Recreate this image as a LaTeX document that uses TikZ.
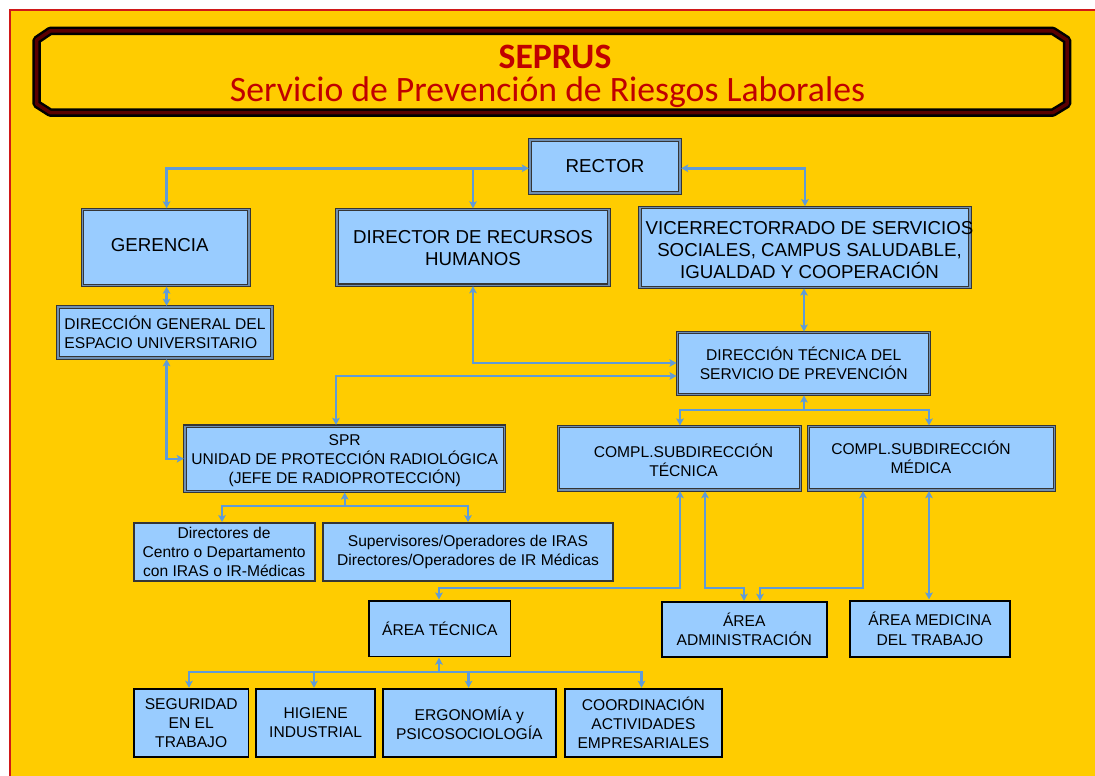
\documentclass[tikz,border=0pt]{standalone}
\usepackage{fontspec}
\setmainfont{Liberation Sans}
\newfontfamily\titlefont{Carlito}
\usetikzlibrary{arrows.meta,calc}
\definecolor{bgyellow}{HTML}{FFCC00}
\definecolor{borderred}{HTML}{D01818}
\definecolor{titlered}{HTML}{C00000}
\definecolor{framered}{HTML}{5A0000}
\definecolor{boxblue}{HTML}{99CCFF}
\definecolor{boxedge}{HTML}{353535}
\definecolor{boxinner}{HTML}{6F8FB3}
\definecolor{arrowblue}{HTML}{5F9BD8}
\newcommand\mvtext[3]{\raisebox{#2}[\height][\depth]{\makebox[0pt]{\hspace*{#1}\begin{tabular}{@{}c@{}}#3\end{tabular}}}}
\begin{document}
\begin{tikzpicture}[x=1pt,y=-1pt,
  topbox/.style={draw=boxedge, double=boxinner, double distance=1.1pt, line width=1.1pt,
    fill=boxblue, inner sep=0pt, outer sep=0pt, align=center,
    font=\fontsize{18.7pt}{21.7pt}\selectfont},
  midbox/.style={topbox, font=\fontsize{15.6pt}{19pt}\selectfont},
  grpbox/.style={draw=boxedge, line width=2pt, fill=boxblue, inner sep=0pt, outer sep=0pt,
    align=center, font=\fontsize{15.6pt}{18.6pt}\selectfont},
  thinbox/.style={draw=black, line width=1.8pt, fill=boxblue, inner sep=0pt, outer sep=0pt,
    align=center, font=\fontsize{15.6pt}{19.2pt}\selectfont},
  conn/.style={draw=arrowblue, line width=2.4pt, line join=miter,
    -{Stealth[length=7pt,width=7.5pt,inset=1.5pt]}, shorten >=1.2pt},
  connboth/.style={conn, {Stealth[length=7pt,width=7.5pt,inset=1.5pt]}-{Stealth[length=7pt,width=7.5pt,inset=1.5pt]}, shorten <=1.2pt},
  titletext/.style={anchor=base, text=titlered, inner sep=0pt}
]
\useasboundingbox (0,0) rectangle (1095,776);
\fill[white] (0,0) rectangle (1095,776);
\begin{scope}
  \clip (0,0) rectangle (1095,776);
  \filldraw[fill=bgyellow, draw=borderred, line width=2pt] (10,10) rectangle (1110,790);
\end{scope}

% title frame
\draw[black, line width=8.5pt, line join=bevel]
  (50,31) -- (1053,31) -- (1067,40) -- (1067,104) -- (1053,112.5) -- (50,112.5) -- (36.7,104) -- (36.7,40) -- cycle;
\draw[framered, line width=3.5pt, line join=bevel]
  (50,31) -- (1053,31) -- (1067,40) -- (1067,104) -- (1053,112.5) -- (50,112.5) -- (36.7,104) -- (36.7,40) -- cycle;
\node[titletext, font={\titlefont\fontsize{35.7pt}{40pt}\selectfont\bfseries}] (t1) at (555,68.3) {SEPRUS};
\node[titletext, font={\titlefont\fontsize{35.7pt}{40pt}\selectfont}] (t2) at (547.5,101.7) {Servicio de Prevención de Riesgos Laborales};

% boxes
\node[topbox, minimum width=150pt, minimum height=53pt] (rector) at (605,166.5) {RECTOR};
\node[topbox, minimum width=166.5pt, minimum height=76pt] (ger) at (165.7,247.5) {\mvtext{-12pt}{0pt}{GERENCIA}};
\node[topbox, minimum width=272pt, minimum height=75.5pt] (drh) at (473,247.3) {\mvtext{0pt}{-3pt}{DIRECTOR DE RECURSOS\\HUMANOS}};
\node[topbox, minimum width=330pt, minimum height=80pt] (vice) at (805,247.3) {\mvtext{9pt}{-5pt}{VICERRECTORRADO DE SERVICIOS\\SOCIALES, CAMPUS SALUDABLE,\\IGUALDAD Y COOPERACIÓN}};
\node[midbox, minimum width=214pt, minimum height=51pt, align=left] (dg) at (165,332.5) {DIRECCIÓN GENERAL DEL\\ESPACIO UNIVERSITARIO};
\node[midbox, minimum width=252pt, minimum height=61.6pt] (dt) at (803.7,363.5) {DIRECCIÓN TÉCNICA DEL\\SERVICIO DE PREVENCIÓN};
\node[midbox, minimum width=319.4pt, minimum height=65.3pt, font=\fontsize{15.6pt}{18.5pt}\selectfont] (spr) at (344.7,458.7) {\mvtext{0pt}{-2pt}{SPR\\UNIDAD DE PROTECCIÓN RADIOLÓGICA\\(JEFE DE RADIOPROTECCIÓN)}};
\node[midbox, minimum width=242.4pt, minimum height=63.3pt] (ct) at (679.5,458.3) {\mvtext{8pt}{-5pt}{COMPL.SUBDIRECCIÓN\\TÉCNICA}};
\node[midbox, minimum width=245.5pt, minimum height=63.3pt] (cm) at (931.5,458.3) {\mvtext{-21pt}{-1.5pt}{COMPL.SUBDIRECCIÓN\\MÉDICA}};
\node[grpbox, minimum width=181pt, minimum height=57.4pt] (dir) at (224.1,552) {Directores de\\Centro o Departamento\\con IRAS o IR-Médicas};
\node[grpbox, minimum width=290.7pt, minimum height=57.4pt] (sup) at (468,552) {Supervisores/Operadores de IRAS\\Directores/Operadores de IR Médicas};
\node[thinbox, minimum width=141.5pt, minimum height=55.8pt] (at) at (439.8,628.6) {ÁREA TÉCNICA};
\node[thinbox, minimum width=164.7pt, minimum height=55pt] (aa) at (744.3,629.5) {ÁREA\\ADMINISTRACIÓN};
\node[thinbox, minimum width=160pt, minimum height=56.3pt] (am) at (930,628.8) {ÁREA MEDICINA\\DEL TRABAJO};
\node[thinbox, minimum width=114.4pt, minimum height=68pt] (seg) at (191.2,723) {SEGURIDAD\\EN EL\\TRABAJO};
\node[thinbox, minimum width=119.3pt, minimum height=68pt] (hig) at (315.6,723) {HIGIENE\\INDUSTRIAL};
\node[thinbox, minimum width=172.6pt, minimum height=68pt] (erg) at (469.3,723) {ERGONOMÍA y\\PSICOSOCIOLOGÍA};
\node[thinbox, minimum width=157.2pt, minimum height=68pt] (coo) at (643.4,723) {COORDINACIÓN\\ACTIVIDADES\\EMPRESARIALES};

% helper coordinates
\coordinate (ry) at (0,168.3);
\coordinate (xg) at (166.6,0);
\coordinate (y363) at (0,363);
\coordinate (y376) at (0,376);
\coordinate (x336) at (336,0);
\coordinate (x804) at (804,0);
\coordinate (yb1) at (0,410);
\coordinate (x929) at (929,0);
\coordinate (y506) at (0,506);
\coordinate (x222) at (222,0);
\coordinate (x680) at (680,0);
\coordinate (x705) at (705,0);
\coordinate (x744) at (744,0);
\coordinate (x760) at (760,0);
\coordinate (x863) at (863,0);
\coordinate (y588) at (0,588);
\coordinate (x439) at (439,0);
\coordinate (y672) at (0,672);
\coordinate (x189) at (189,0);
\coordinate (x314) at (314,0);
\coordinate (x469) at (468.6,0);
\coordinate (x642) at (641.5,0);

% connectors
\draw[connboth] (rector.west |- ry) -| (xg |- ger.north);
\draw[conn] (drh.north |- ry) -- (drh.north);
\draw[connboth] (rector.east |- ry) -| (vice.north);
\draw[connboth] (ger.south -| xg) -- (dg.north -| xg);
\draw[connboth] (dg.south -| xg) |- (spr.west);
\draw[connboth] (drh.south) |- (dt.west |- y363);
\draw[connboth] (dt.west |- y376) -| (spr.north -| x336);
\draw[connboth] (vice.south -| x804) -- (dt.north -| x804);
\draw[conn] (x804 |- yb1) -- (dt.south -| x804);
\draw[conn] (x804 |- yb1) -| (ct.north -| x680);
\draw[conn] (x804 |- yb1) -| (cm.north -| x929);
\draw[conn] (spr.south |- y506) -- (spr.south);
\draw[conn] (spr.south |- y506) -| (dir.north -| x222);
\draw[conn] (spr.south |- y506) -| (sup.north);
\draw[connboth] (ct.south -| x680) -- (x680 |- y588) -| (at.north -| x439);
\draw[connboth] (ct.south -| x705) -- (x705 |- y588) -| (aa.north -| x744);
\draw[connboth] (cm.south -| x863) -- (x863 |- y588) -| (aa.north -| x760);
\draw[connboth] (cm.south -| x929) -- (am.north -| x929);
\draw[conn] (x439 |- y672) -- (at.south -| x439);
\draw[conn] (x439 |- y672) -| (seg.north -| x189);
\draw[conn] (x439 |- y672) -| (hig.north -| x314);
\draw[conn] (x439 |- y672) -| (erg.north -| x469);
\draw[conn] (x439 |- y672) -| (coo.north -| x642);
\end{tikzpicture}
\end{document}
